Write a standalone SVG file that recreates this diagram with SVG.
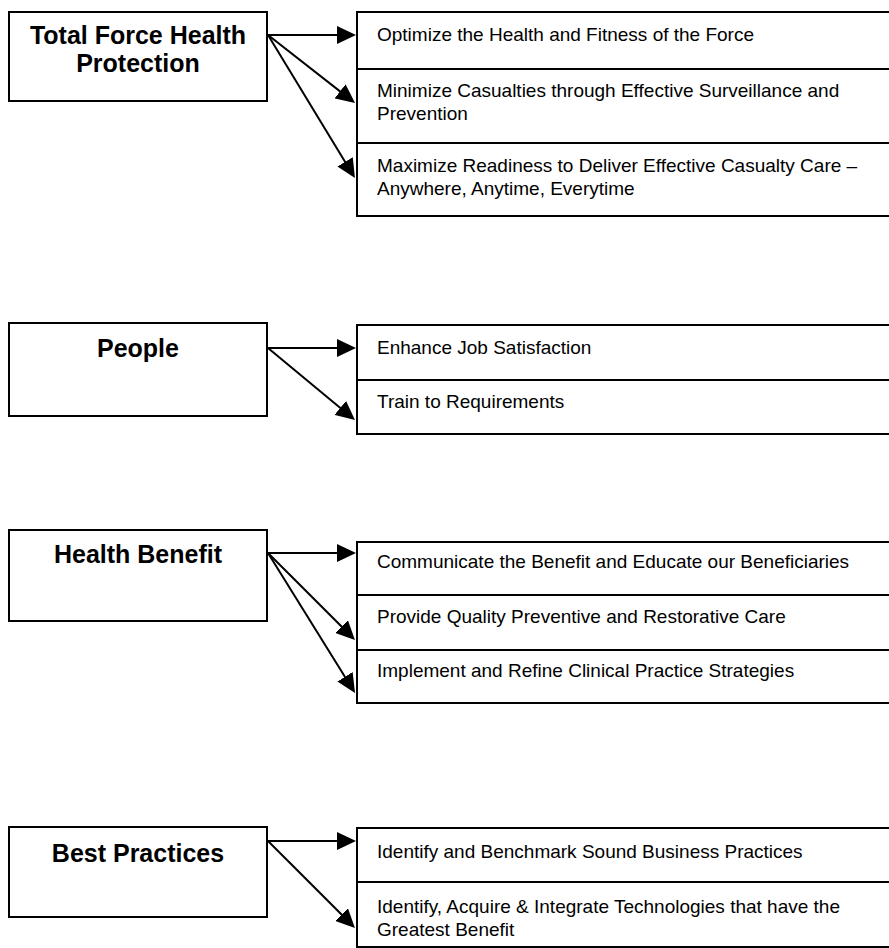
<svg xmlns="http://www.w3.org/2000/svg" width="889" height="948" viewBox="0 0 889 948">
  <style>
    .box { fill: #fff; stroke: #000; stroke-width: 2; }
    .title { font-family: "Liberation Sans", Arial, sans-serif; font-size: 25px; font-weight: bold; text-anchor: middle; fill: #000; }
    .item { font-family: "Liberation Sans", Arial, sans-serif; font-size: 19px; fill: #000; }
    .conn { stroke: #000; stroke-width: 2; fill: none; marker-end: url(#arrow); }
  </style>
  <defs>
    <marker id="arrow" markerUnits="userSpaceOnUse" markerWidth="19" markerHeight="18" refX="11" refY="9" orient="auto" viewBox="0 0 19 18">
      <path d="M0,0 L19,9 L0,18 z" fill="#000"/>
    </marker>
  </defs>
  <rect width="889" height="948" fill="#fff"/>

  <!-- Total Force Health Protection -->
  <g id="tfhp">
    <rect class="box" x="9" y="12" width="258" height="89"/>
    <text class="title" x="138" y="44">Total Force Health</text>
    <text class="title" x="138" y="72">Protection</text>
  </g>
  <g id="tfhp-1">
    <rect class="box" x="357" y="12" width="540" height="57"/>
    <text class="item" x="377" y="41">Optimize the Health and Fitness of the Force</text>
  </g>
  <g id="tfhp-2">
    <rect class="box" x="357" y="69" width="540" height="74"/>
    <text class="item" x="377" y="97">Minimize Casualties through Effective Surveillance and</text>
    <text class="item" x="377" y="120">Prevention</text>
  </g>
  <g id="tfhp-3">
    <rect class="box" x="357" y="143" width="540" height="73"/>
    <text class="item" x="377" y="172">Maximize Readiness to Deliver Effective Casualty Care –</text>
    <text class="item" x="377" y="195">Anywhere, Anytime, Everytime</text>
  </g>

  <!-- People -->
  <g id="people">
    <rect class="box" x="9" y="323" width="258" height="93"/>
    <text class="title" x="138" y="357">People</text>
  </g>
  <g id="people-1">
    <rect class="box" x="357" y="325" width="540" height="55"/>
    <text class="item" x="377" y="354">Enhance Job Satisfaction</text>
  </g>
  <g id="people-2">
    <rect class="box" x="357" y="380" width="540" height="54"/>
    <text class="item" x="377" y="408">Train to Requirements</text>
  </g>

  <!-- Health Benefit -->
  <g id="benefit">
    <rect class="box" x="9" y="530" width="258" height="91"/>
    <text class="title" x="138" y="563">Health Benefit</text>
  </g>
  <g id="benefit-1">
    <rect class="box" x="357" y="542" width="540" height="53"/>
    <text class="item" x="377" y="568">Communicate the Benefit and Educate our Beneficiaries</text>
  </g>
  <g id="benefit-2">
    <rect class="box" x="357" y="595" width="540" height="55"/>
    <text class="item" x="377" y="623">Provide Quality Preventive and Restorative Care</text>
  </g>
  <g id="benefit-3">
    <rect class="box" x="357" y="650" width="540" height="53"/>
    <text class="item" x="377" y="677">Implement and Refine Clinical Practice Strategies</text>
  </g>

  <!-- Best Practices -->
  <g id="practices">
    <rect class="box" x="9" y="827" width="258" height="90"/>
    <text class="title" x="138" y="862">Best Practices</text>
  </g>
  <g id="practices-1">
    <rect class="box" x="357" y="828" width="540" height="54"/>
    <text class="item" x="377" y="858">Identify and Benchmark Sound Business Practices</text>
  </g>
  <g id="practices-2">
    <rect class="box" x="357" y="882" width="540" height="65"/>
    <text class="item" x="377" y="913">Identify, Acquire &amp; Integrate Technologies that have the</text>
    <text class="item" x="377" y="936">Greatest Benefit</text>
  </g>

  <!-- Connectors -->
  <g id="connectors">
    <path class="conn" d="M268,35 L348,35"/>
    <path class="conn" d="M268,35 L348.7,98.1"/>
    <path class="conn" d="M268,35 L350.8,171.2"/>

    <path class="conn" d="M268,348 L348,348"/>
    <path class="conn" d="M268,348 L348.8,414.9"/>

    <path class="conn" d="M268,553 L348,553"/>
    <path class="conn" d="M268,553 L349.3,634.3"/>
    <path class="conn" d="M268,553 L350.8,686.2"/>

    <path class="conn" d="M268,841 L348,841"/>
    <path class="conn" d="M268,841 L349.3,922.3"/>
  </g>
</svg>
